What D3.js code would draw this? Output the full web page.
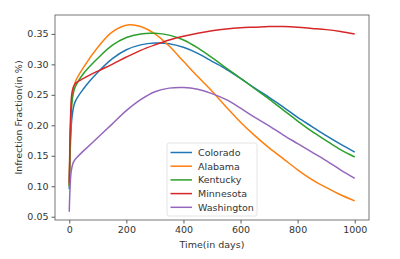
<!DOCTYPE html>
<html>
<head>
<meta charset="utf-8">
<script src="https://cdn.jsdelivr.net/npm/d3@7"></script>
<style>
  body { margin: 0; background: #fff; }
  svg { display: block; font-family: "DejaVu Sans", sans-serif; }
</style>
</head>
<body>
<div id="svg-container"></div>
<script>
// series, one list of [day, fraction] per state
const states = ["Colorado", "Alabama", "Kentucky", "Minnesota", "Washington"]
const colors = ["#1f77b4", "#ff7f0e", "#2ca02c", "#d62728", "#9467bd"]

const colorado = [[0,0.095],[5,0.18],[10,0.215],[20,0.238],[50,0.26],[100,0.287],[150,0.309],[200,0.324],[250,0.332],[300,0.335],[350,0.334],[400,0.328],[450,0.318],[500,0.305],[550,0.292],[600,0.277],[650,0.261],[700,0.246],[750,0.23],[800,0.213],[850,0.198],[900,0.183],[950,0.169],[1000,0.156]]
const alabama = [[0,0.10],[5,0.2],[10,0.245],[20,0.27],[50,0.295],[100,0.328],[150,0.353],[210,0.365],[250,0.362],[300,0.35],[350,0.33],[400,0.305],[450,0.28],[500,0.256],[550,0.23],[600,0.205],[650,0.183],[700,0.163],[750,0.145],[800,0.127],[850,0.111],[900,0.098],[950,0.086],[1000,0.076]]
const kentucky = [[0,0.1],[5,0.2],[10,0.24],[20,0.262],[50,0.285],[100,0.31],[150,0.331],[200,0.344],[250,0.35],[300,0.351],[350,0.348],[400,0.34],[450,0.327],[500,0.311],[550,0.294],[600,0.277],[650,0.26],[700,0.243],[750,0.225],[800,0.207],[850,0.19],[900,0.175],[950,0.16],[1000,0.148]]
const minnesota = [[0,0.105],[5,0.22],[10,0.255],[20,0.268],[50,0.277],[100,0.289],[150,0.3],[200,0.312],[250,0.323],[300,0.332],[350,0.34],[400,0.346],[450,0.351],[500,0.355],[550,0.358],[600,0.36],[650,0.361],[700,0.362],[750,0.362],[800,0.361],[850,0.359],[900,0.357],[950,0.354],[1000,0.35]]
const washington = [[0,0.058],[3,0.1],[7,0.125],[15,0.14],[30,0.149],[50,0.158],[100,0.18],[150,0.202],[200,0.224],[250,0.242],[300,0.255],[350,0.261],[400,0.262],[450,0.259],[500,0.252],[550,0.242],[600,0.228],[650,0.213],[700,0.199],[750,0.184],[800,0.17],[850,0.156],[900,0.142],[950,0.127],[1000,0.113]]
const series = [colorado, alabama, kentucky, minnesota, washington]

const xTicks = [0, 200, 400, 600, 800, 1000]
const yTicks = [0.05, 0.10, 0.15, 0.20, 0.25, 0.30, 0.35]

const width = 400
const height = 259
const margin = { top: 15, right: 31, bottom: 39, left: 55 }
const innerWidth = width - margin.left - margin.right
const innerHeight = height - margin.top - margin.bottom

const svg = d3.select('#svg-container').append('svg')
    .attr('width', width).attr('height', height)

const xScale = d3.scaleLinear().domain([-50, 1050]).range([0, innerWidth])
const yScale = d3.scaleLinear().domain([0.0446, 0.381]).range([innerHeight, 0])

const g = svg.append('g')
    .attr('transform', `translate(${margin.left}, ${margin.top})`)

// lijnen
const line = d3.line().x(d => xScale(d[0])).y(d => yScale(d[1])).curve(d3.curveCatmullRom.alpha(0.5))
series.forEach((s, i) => {
    g.append('path').datum(s)
        .attr('fill', 'none')
        .attr('stroke', colors[i])
        .attr('stroke-width', 1.5)
        .attr('d', line)
})

// assen
const xAxis = g.append('g').attr('transform', `translate(0, ${innerHeight})`)
    .call(d3.axisBottom(xScale).tickValues(xTicks).tickSize(3.5).tickPadding(3).tickFormat(d3.format('d')))
const yAxis = g.append('g')
    .call(d3.axisLeft(yScale).tickValues(yTicks).tickSize(3.5).tickPadding(3).tickFormat(d3.format('.2f')))
;[xAxis, yAxis].forEach(a => {
    a.select('.domain').remove()
    a.selectAll('line').attr('stroke', '#333').attr('stroke-width', 0.8)
    a.selectAll('text').attr('fill', '#333').style('font-size', '9.5px').style('font-family', '"DejaVu Sans", sans-serif')
})

// kader
g.append('rect').attr('width', innerWidth).attr('height', innerHeight)
    .attr('fill', 'none').attr('stroke', '#555').attr('stroke-width', 0.8)

// labels
svg.append('text').attr('x', margin.left + innerWidth / 2).attr('y', 248)
    .attr('text-anchor', 'middle').attr('fill', '#333').style('font-size', '9.5px')
    .text('Time(in days)')
svg.append('text').attr('transform', `translate(22, ${margin.top + innerHeight / 2}) rotate(-90)`)
    .attr('text-anchor', 'middle').attr('fill', '#333').style('font-size', '9.5px')
    .text('Infrection Fraction(in %)')

// legenda
const lg = svg.append('g').attr('transform', 'translate(167, 143)')
lg.append('rect').attr('width', 90).attr('height', 73).attr('rx', 2)
    .attr('fill', '#fff').attr('fill-opacity', 0.8).attr('stroke', '#ddd').attr('stroke-width', 0.8)
states.forEach((name, i) => {
    const y = 9.5 + i * 13.7
    lg.append('line').attr('x1', 3.5).attr('x2', 25).attr('y1', y).attr('y2', y)
        .attr('stroke', colors[i]).attr('stroke-width', 1.5)
    lg.append('text').attr('x', 31).attr('y', y + 3.4)
        .attr('fill', '#333').style('font-size', '9.5px').text(name)
})
</script>
</body>
</html>
